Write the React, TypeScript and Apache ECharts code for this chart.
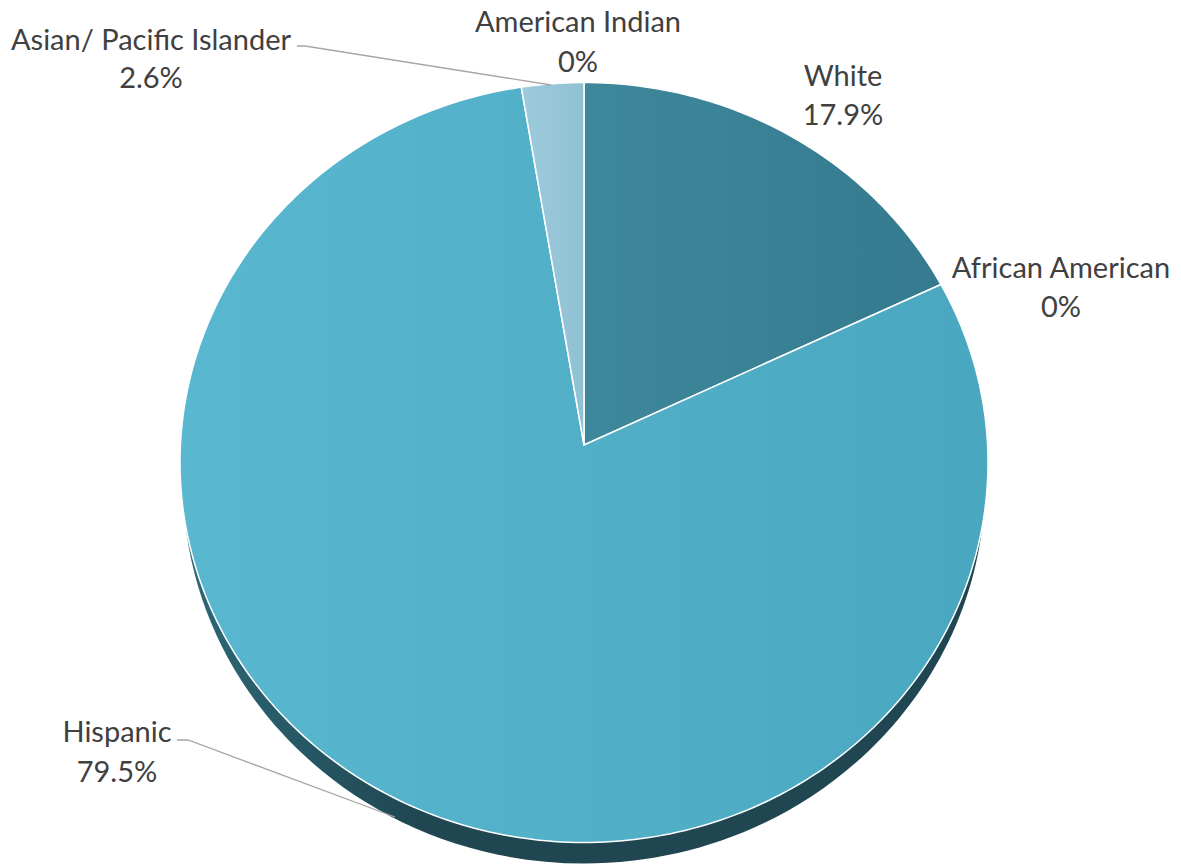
import React, { useEffect, useRef } from "react";
import * as echarts from "echarts";

const categories = ["White", "African American", "Hispanic", "Asian/ Pacific Islander", "American Indian"];
const values = [17.9, 0, 79.5, 2.6, 0];

// label layout: [centerX, nameY, valueY]
const LABEL_LAYOUT: number[][] = [
  [843, 74, 113],
  [1061, 266, 305],
  [117, 730, 770],
  [151, 38, 76],
  [578, 20, 60],
];
// leader lines for labels that have them
const LEADERS: Record<number, number[][]> = {
  2: [[177, 740], [188, 740], [395, 817]],
  3: [[297, 46], [305, 46], [551, 85]],
};

const FILLS = [
  ["#3e889c", "#357a8e"],
  ["#4aa7c0", "#4aa7c0"],
  ["#59b7d0", "#4aa7c0"],
  ["#9ccbdc", "#90c1d3"],
  ["#cccccc", "#cccccc"],
];

const CX = 584, CY = 462.5, RX = 404, RY = 380;
const APEX_X = 584, APEX_Y = 445;
const DEPTH = 20;

function rimPoint(theta: number): number[] {
  const dx = RX * Math.sin(theta);
  const dy = -RY * Math.cos(theta);
  const ox = APEX_X - CX, oy = APEX_Y - CY;
  const a = (dx / RX) ** 2 + (dy / RY) ** 2;
  const b = 2 * ((ox * dx) / (RX * RX) + (oy * dy) / (RY * RY));
  const c = (ox / RX) ** 2 + (oy / RY) ** 2 - 1;
  const t = (-b + Math.sqrt(b * b - 4 * a * c)) / (2 * a);
  return [APEX_X + t * dx, APEX_Y + t * dy];
}

export default function App() {
  const ref = useRef<HTMLDivElement>(null);
  useEffect(() => {
    if (!ref.current) return;
    const chart = echarts.init(ref.current, undefined, { renderer: "svg" });
    const total = values.reduce((s, v) => s + v, 0);
    const starts: number[] = [];
    let acc = 0;
    values.forEach((v) => {
      starts.push(acc);
      acc += v;
    });
    const font = "Lato, 'Open Sans', sans-serif";
    chart.setOption({
      animation: false,
      backgroundColor: "#ffffff",
      graphic: [
        {
          type: "ellipse",
          z: 0,
          shape: { cx: CX, cy: CY + DEPTH, rx: RX - 3, ry: RY + 1 },
          style: {
            fill: {
              type: "linear",
              x: 0, y: 0, x2: 1, y2: 0,
              colorStops: [
                { offset: 0, color: "#2e6877" },
                { offset: 0.3, color: "#1f4651" },
                { offset: 1, color: "#1f4651" },
              ],
            },
          },
        },
      ],
      series: [
        {
          type: "custom",
          coordinateSystem: "none",
          z: 5,
          data: categories.map((name, i) => ({ name, value: values[i] })),
          renderItem: (params: any, api: any) => {
            const i = params.dataIndex;
            const v = api.value(0) as number;
            const children: any[] = [];
            if (v > 0) {
              const a0 = (starts[i] / total) * Math.PI * 2;
              const a1 = ((starts[i] + v) / total) * Math.PI * 2;
              const steps = Math.max(2, Math.ceil(((a1 - a0) * 180) / Math.PI));
              const pts: number[][] = [[APEX_X, APEX_Y]];
              for (let k = 0; k <= steps; k++) {
                pts.push(rimPoint(a0 + ((a1 - a0) * k) / steps));
              }
              children.push({
                type: "polygon",
                shape: { points: pts },
                style: {
                  fill: {
                    type: "linear",
                    x: 0, y: 0, x2: 1, y2: 0,
                    colorStops: [
                      { offset: 0, color: FILLS[i][0] },
                      { offset: 1, color: FILLS[i][1] },
                    ],
                  },
                  stroke: "#ffffff",
                  lineWidth: 1.5,
                  lineJoin: "round",
                },
              });
            }
            const lay = LABEL_LAYOUT[i];
            const lead = LEADERS[i];
            if (lead) {
              children.push({
                type: "polyline",
                z2: 10,
                shape: { points: lead },
                style: { stroke: "#a6a6a6", lineWidth: 1.3, fill: null },
              });
            }
            children.push({
              type: "text",
              z2: 20,
              x: lay[0],
              y: lay[1],
              style: {
                text: categories[i],
                align: "center",
                verticalAlign: "middle",
                fill: "#404040",
                fontSize: 29,
                fontFamily: font,
              },
            });
            children.push({
              type: "text",
              z2: 20,
              x: lay[0],
              y: lay[2],
              style: {
                text: `${v}%`,
                align: "center",
                verticalAlign: "middle",
                fill: "#404040",
                fontSize: 29,
                fontFamily: font,
              },
            });
            return { type: "group", children };
          },
        },
      ],
    });
    return () => chart.dispose();
  }, []);
  return (
    <div
      ref={ref}
      style={{ position: "absolute", left: 0, top: 0, width: 1181, height: 865, background: "#fff" }}
    />
  );
}
